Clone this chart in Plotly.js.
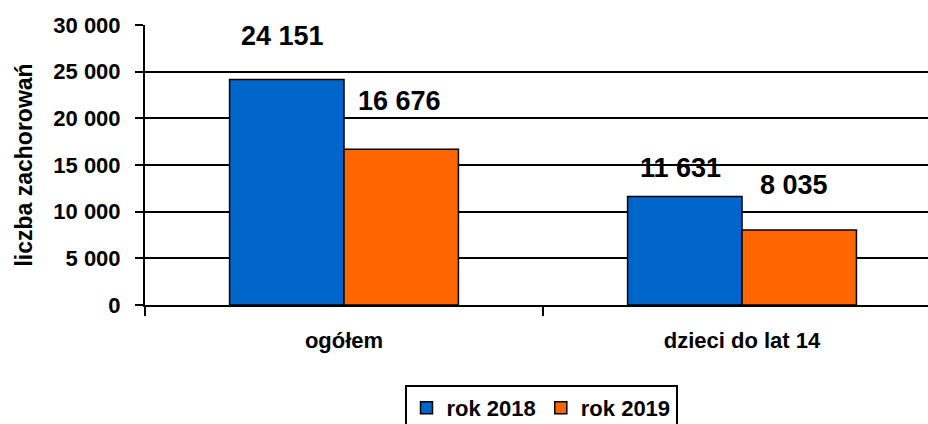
<!DOCTYPE html>
<html>
<head>
<meta charset="utf-8">
<script src="https://cdn.plot.ly/plotly-3.0.1.min.js"></script>
<style>
  html, body { margin: 0; padding: 0; background: #fff; overflow: hidden; }
  #chart { width: 928px; height: 424px; }
</style>
</head>
<body>
<div id="chart"></div>
<script>
// ---- data ----
const categories = ['ogółem', 'dzieci do lat 14'];
const seriesNames = ['rok 2018', 'rok 2019'];
const values2018 = [24151, 11631];
const values2019 = [16676, 8035];
const yTickVals = [0, 5000, 10000, 15000, 20000, 25000, 30000];
const yAxisTitle = 'liczba zachorowań';

// ---- style ----
const FONT = '"Liberation Sans", Arial, sans-serif';
const colors = ['#0066CC', '#FF6600'];
const seriesValues = [values2018, values2019];

function fmt(v) {
  return String(v).replace(/\B(?=(\d{3})+(?!\d))/g, ' ');
}

const traces = seriesValues.map((vals, i) => ({
  type: 'bar',
  name: seriesNames[i],
  x: categories,
  y: vals,
  marker: { color: colors[i], line: { color: '#000', width: 1.5 } },
  hoverinfo: 'none'
}));

// label offsets (pixels) per series/category
const labelYShift = [[27, 11], [31, 28]];
const labelXShift = [[-62, -62], [55, 52]];

const annotations = [];
seriesValues.forEach((vals, i) => {
  vals.forEach((v, j) => {
    annotations.push({
      xref: 'x', yref: 'y',
      x: categories[j], y: v,
      text: fmt(v),
      showarrow: false,
      xanchor: 'center', yanchor: 'bottom',
      xshift: labelXShift[i][j],
      yshift: labelYShift[i][j],
      font: { family: FONT, size: 27, color: '#000', weight: 'bold' }
    });
  });
});

const layout = {
  width: 928,
  height: 424,
  margin: { l: 145, r: 0, t: 25, b: 119, pad: 0 },
  paper_bgcolor: '#fff',
  plot_bgcolor: '#fff',
  separators: ', ',
  barmode: 'group',
  bargap: 0.425,
  bargroupgap: 0,
  showlegend: true,
  font: { family: FONT, color: '#000', weight: 'bold' },
  xaxis: {
    type: 'category',
    range: [-0.5, 1.4673],
    tickson: 'boundaries',
    ticks: 'outside',
    ticklen: 9,
    tickwidth: 2,
    tickcolor: '#000',
    showline: true,
    linecolor: '#000',
    linewidth: 2,
    showgrid: false,
    zeroline: false,
    ticklabelstandoff: 15,
    tickfont: { family: FONT, size: 22, color: '#000', weight: 'bold' },
    fixedrange: true
  },
  yaxis: {
    range: [0, 30000],
    tickvals: yTickVals,
    tickformat: ',d',
    ticks: 'outside',
    ticklen: 8,
    tickwidth: 2,
    tickcolor: '#000',
    showline: true,
    linecolor: '#000',
    linewidth: 2,
    showgrid: true,
    gridcolor: '#000',
    gridwidth: 2,
    zeroline: false,
    ticklabelstandoff: 10,
    tickfont: { family: FONT, size: 22, color: '#000', weight: 'bold' },
    title: { text: yAxisTitle, font: { family: FONT, size: 23, color: '#000', weight: 'bold' }, standoff: 14 },
    automargin: false,
    fixedrange: true
  },
  legend: {
    orientation: 'h',
    xref: 'container', yref: 'container',
    x: 541 / 928, xanchor: 'center',
    y: 1 - 385 / 424, yanchor: 'top',
    bgcolor: '#fff',
    bordercolor: '#000',
    borderwidth: 2,
    itemwidth: 30,
    font: { family: FONT, size: 22, color: '#000', weight: 'bold' }
  },
  annotations: annotations
};

Plotly.newPlot('chart', traces, layout, { staticPlot: true, displayModeBar: false });
</script>
</body>
</html>
